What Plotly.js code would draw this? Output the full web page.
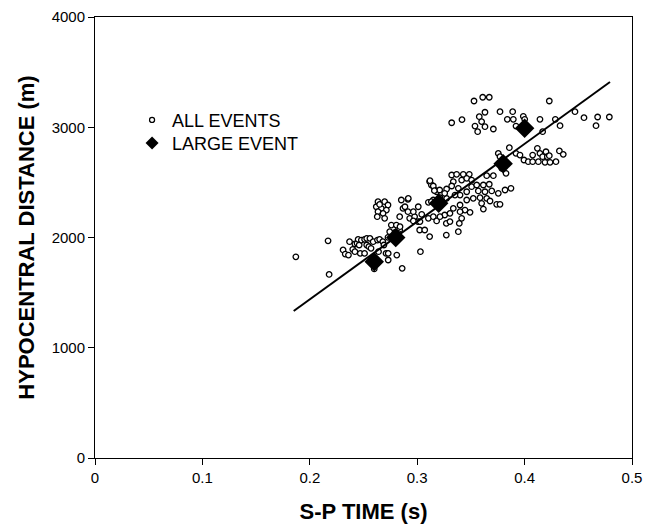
<!DOCTYPE html>
<html>
<head>
<meta charset="utf-8">
<script src="https://cdn.plot.ly/plotly-3.0.1.min.js"></script>
<style>html,body{margin:0;padding:0;background:#fff;}#chart{width:663px;height:527px;}</style>
</head>
<body>
<div id="chart"></div>
<script>
// S-P time (s) for all events
const allEventsX = [
  0.187,0.217,0.218,0.231,0.233,0.236,0.237,0.240,0.242,0.242,0.244,0.245,0.246,0.247,0.248,0.251,0.251,0.253,0.253,0.255,0.256,0.257,0.259,0.260,0.263,0.264,0.265,0.268,0.269,0.271,0.273,0.273,0.281,0.286,0.303,
  0.2635,0.2697,0.2728,0.2619,0.2666,0.2713,0.2635,0.2682,0.2628,0.2697,0.2650,
  0.2852,0.2914,0.2868,0.2914,0.2837,0.2930,0.2759,0.2806,0.2837,0.2790,0.2744,0.2728,0.2976,0.3007,0.3023,0.3070,0.3116,0.2886,0.2964,0.3010,0.3042,0.2964,0.3026,0.2824,0.2840,0.2917,
  0.3104,0.3150,0.3212,0.3274,0.3181,0.3274,0.3132,0.3163,0.3256,0.3271,0.3271,0.3383,0.3116,0.3132,0.3163,0.3209,0.3256,
  0.3119,0.3150,0.3160,0.3321,0.3367,0.3429,0.3485,0.3336,0.3414,0.3461,0.3507,0.3321,0.3383,0.3647,0.3709,0.3507,0.3554,0.3616,0.3671,0.3569,0.3631,0.3694,0.3755,0.3818,0.3873,0.3461,0.3399,0.3352,0.3585,0.3647,0.3678,0.3522,0.3461,0.3399,0.3445,0.3492,0.3600,0.3616,0.3740,0.3771,0.3399,0.3336,0.3305,0.3104,0.3150,0.3181,0.3212,0.3414,0.3305,0.3392,
  0.3858,0.3755,0.3771,0.3808,0.3787,0.3827,0.3920,0.3957,0.3994,0.4034,0.4075,0.4075,0.4119,0.4143,0.4128,0.4168,0.4199,0.4212,0.4190,0.4237,0.4292,0.4324,0.4360,0.4230,
  0.3529,0.3610,0.3671,0.4230,0.3321,0.3417,0.3631,0.3578,0.3600,0.3538,0.3631,0.3563,0.3709,0.3771,0.3889,0.3839,0.3895,0.3920,0.3988,0.4001,0.4143,0.4286,0.4330,0.4168,0.4469,0.4553,0.4680,0.4665,0.4789
];
// Hypocentral distance (m) for all events
const allEventsY = [
  1825,1970,1665,1887,1850,1841,1962,1893,1941,1871,1947,1983,1932,1856,1977,1983,1856,1932,1992,1917,1992,1902,1962,1715,1977,1871,1983,1962,1932,1856,1856,1796,1841,1720,1871,
  2325,2325,2295,2279,2264,2249,2234,2219,2189,2174,2300,
  2340,2346,2264,2234,2189,2174,2113,2113,2068,2044,2053,2002,2189,2144,2068,2068,2008,2279,2234,2279,2210,2150,2144,2038,2098,2355,
  2319,2340,2361,2355,2415,2440,2325,2310,2204,2128,2022,2053,2506,2476,2431,2431,2401,
  2515,2467,2425,2567,2573,2573,2573,2506,2521,2537,2521,2467,2446,2561,2561,2461,2476,2476,2483,2422,2415,2422,2401,2431,2446,2415,2385,2385,2361,2355,2331,2355,2340,2295,2249,2228,2310,2258,2301,2301,2234,2264,2219,2174,2189,2150,2189,2174,2144,2128,
  2815,2763,2733,2664,2628,2582,2763,2748,2703,2688,2748,2688,2809,2763,2688,2733,2778,2733,2682,2682,2688,2785,2754,2742,
  3238,3272,3272,3238,3041,3069,3136,3096,3051,3011,3005,2960,2984,3141,3141,3072,3072,3011,3099,3072,3072,3072,3014,2960,3141,3087,3093,3014,3093
];
// Large event
const largeEventX = [0.26, 0.28, 0.32, 0.38, 0.40];
const largeEventY = [1780, 2000, 2310, 2670, 2990];
// Regression line end points
const fitX = [0.185, 0.4795];
const fitY = [1333, 3410];

const FONT = 'Arial, "Liberation Sans", sans-serif';

const traces = [
  {x: allEventsX, y: allEventsY, type: 'scatter', mode: 'markers', name: 'ALL EVENTS', showlegend: false,
   marker: {symbol: 'circle', size: 5.5, color: '#ffffff', line: {color: '#000000', width: 1.3}}},
  {x: fitX, y: fitY, type: 'scatter', mode: 'lines', showlegend: false,
   line: {color: '#000000', width: 2}},
  {x: largeEventX, y: largeEventY, type: 'scatter', mode: 'markers', name: 'LARGE EVENT', showlegend: false,
   marker: {symbol: 'diamond', size: 15, color: '#000000', line: {width: 0}}},
  // legend entries (no drawn points)
  {x: [null], y: [null], type: 'scatter', mode: 'markers', name: 'ALL EVENTS', legend: 'legend', showlegend: true,
   marker: {symbol: 'circle', size: 5, color: '#ffffff', line: {color: '#000000', width: 1.3}}},
  {x: [null], y: [null], type: 'scatter', mode: 'markers', name: 'LARGE EVENT', legend: 'legend2', showlegend: true,
   marker: {symbol: 'diamond', size: 10, color: '#000000', line: {width: 0}}}
];

const axisCommon = {
  showgrid: false, zeroline: false, showline: true, linecolor: '#000000', linewidth: 1,
  mirror: true, ticks: 'outside', ticklen: 6, tickcolor: '#000000', tickwidth: 1,
  tickfont: {family: FONT, size: 15, color: '#000000'}
};

const layout = {
  width: 663, height: 527,
  margin: {l: 95, r: 31, t: 17, b: 69},
  paper_bgcolor: '#ffffff', plot_bgcolor: '#ffffff',
  font: {family: FONT, color: '#000000'},
  showlegend: true,
  xaxis: Object.assign({}, axisCommon, {
    range: [0, 0.5], dtick: 0.1, tick0: 0,
    title: {text: 'S-P TIME (s)', font: {family: FONT, size: 22, weight: 'bold', color: '#000000'}, standoff: 18}
  }),
  yaxis: Object.assign({}, axisCommon, {
    range: [0, 4000], dtick: 1000, tick0: 0,
    title: {text: 'HYPOCENTRAL DISTANCE (m)', font: {family: FONT, size: 22, weight: 'bold', color: '#000000'}, standoff: 10}
  }),
  legend: {x: 0.069, y: 0.766, xanchor: 'left', yanchor: 'middle', bgcolor: 'rgba(0,0,0,0)',
           font: {family: FONT, size: 18, color: '#000000'}},
  legend2: {x: 0.069, y: 0.7135, xanchor: 'left', yanchor: 'middle', bgcolor: 'rgba(0,0,0,0)',
           font: {family: FONT, size: 18, color: '#000000'}}
};

Plotly.newPlot('chart', traces, layout, {displayModeBar: false, staticPlot: true});
</script>
</body>
</html>
